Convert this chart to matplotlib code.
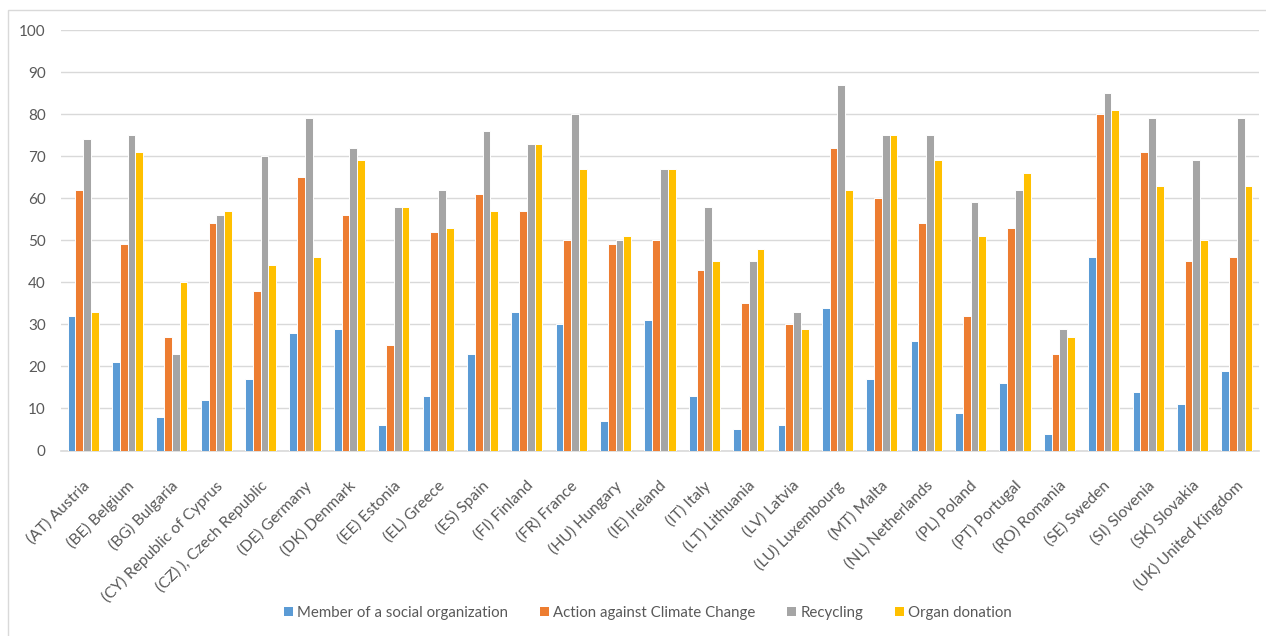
import matplotlib
matplotlib.use("Agg")
import matplotlib.pyplot as plt
import matplotlib.transforms as mtransforms
import numpy as np
from matplotlib.patches import Rectangle, Patch

plt.rcParams['font.family'] = ['Lato', 'DejaVu Sans']

countries = [
    "(AT) Austria", "(BE) Belgium", "(BG) Bulgaria", "(CY) Republic of Cyprus",
    "(CZ) ), Czech Republic", "(DE) Germany", "(DK) Denmark", "(EE) Estonia",
    "(EL) Greece", "(ES) Spain", "(FI) Finland", "(FR) France", "(HU) Hungary",
    "(IE) Ireland", "(IT) Italy", "(LT) Lithuania", "(LV) Latvia",
    "(LU) Luxembourg", "(MT) Malta", "(NL) Netherlands", "(PL) Poland",
    "(PT) Portugal", "(RO) Romania", "(SE) Sweden", "(SI) Slovenia",
    "(SK) Slovakia", "(UK) United Kingdom",
]

social_org = [32, 21, 8, 12, 17, 28, 29, 6, 13, 23, 33, 30, 7, 31, 13, 5, 6,
              34, 17, 26, 9, 16, 4, 46, 14, 11, 19]
climate = [62, 49, 27, 54, 38, 65, 56, 25, 52, 61, 57, 50, 49, 50, 43, 35, 30,
           72, 60, 54, 32, 53, 23, 80, 71, 45, 46]
recycling = [74, 75, 23, 56, 70, 79, 72, 58, 62, 76, 73, 80, 50, 67, 58, 45, 33,
             87, 75, 75, 59, 62, 29, 85, 79, 69, 79]
organ = [33, 71, 40, 57, 44, 46, 69, 58, 53, 57, 73, 67, 51, 67, 45, 48, 29,
         62, 75, 69, 51, 66, 27, 81, 63, 50, 63]

series_names = ["Member of a social organization", "Action against Climate Change",
                "Recycling", "Organ donation"]
series_values = [social_org, climate, recycling, organ]
colors = ["#5B9BD5", "#ED7D31", "#A5A5A5", "#FFC000"]
yticks = [0, 10, 20, 30, 40, 50, 60, 70, 80, 90, 100]

W, H = 1266, 636
fig = plt.figure(figsize=(W / 100, H / 100), dpi=100)
fig.patch.set_facecolor("white")

# outer chart frame
fig.add_artist(Rectangle((8 / W, -0.05), 1.2, 1 - 10 / H + 0.05,
                         transform=fig.transFigure, fill=False,
                         edgecolor="#D9D9D9", linewidth=1.0))

left, right, top, bottom = 61 / W, 1259 / W, 1 - 30 / H, 1 - 450.5 / H
ax = fig.add_axes([left, bottom, right - left, top - bottom])

x = np.arange(len(countries))
bw = 0.1755
for i, (vals, c) in enumerate(zip(series_values, colors)):
    ax.bar(x + (i - 1.5) * bw, vals, width=bw, color=c,
           edgecolor="white", linewidth=0.7, zorder=3)

ax.set_xlim(-0.5, len(countries) - 0.5)
ax.set_ylim(0, 100)
ax.set_yticks(yticks)
ax.set_yticklabels([str(v) for v in yticks])
ax.yaxis.grid(True, color="#D9D9D9", linewidth=1.0, zorder=0)
ax.set_axisbelow(True)
for s in ["left", "right", "top"]:
    ax.spines[s].set_visible(False)
ax.spines["bottom"].set_color("#D9D9D9")
ax.spines["bottom"].set_linewidth(1.2)
ax.tick_params(axis="both", length=0, colors="#595959")
ax.tick_params(axis="y", pad=11, labelsize=11)

ax.set_xticks(x)
ax.set_xticklabels(countries, rotation=45, ha="right", va="top",
                   rotation_mode="anchor", fontsize=11.3)
ax.tick_params(axis="x", pad=20)
shift = mtransforms.ScaledTranslation(-1 / 100, 0, fig.dpi_scale_trans)
for lbl in ax.get_xticklabels():
    lbl.set_transform(lbl.get_transform() + shift)

handles = [Patch(facecolor=c, edgecolor="none") for c in colors]
leg = fig.legend(handles, series_names, loc="center",
                 bbox_to_anchor=(648 / W, 1 - 613 / H), ncol=4, frameon=False,
                 fontsize=10.8, handlelength=0.6, handleheight=0.6,
                 handletextpad=0.3, columnspacing=2.1, labelcolor="#595959")

fig.savefig("out.png", dpi=100, facecolor="white")
